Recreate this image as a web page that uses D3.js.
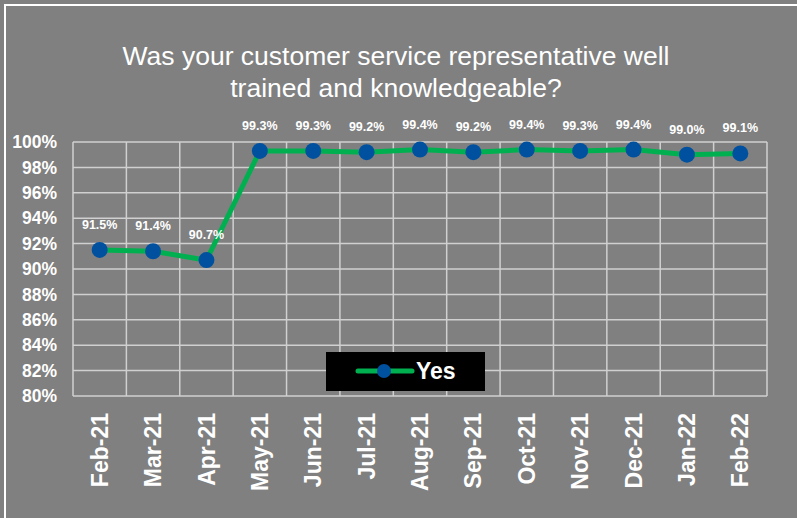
<!DOCTYPE html>
<html>
<head>
<meta charset="utf-8">
<script src="https://cdn.jsdelivr.net/npm/d3@7"></script>
<style>
  body { margin: 0; background: #808080; }
  svg { display: block; font-family: "Liberation Sans", Arial, sans-serif; }
</style>
</head>
<body>
<svg width="797" height="518"></svg>
<script>
var months = ['Feb-21','Mar-21','Apr-21','May-21','Jun-21','Jul-21','Aug-21','Sep-21','Oct-21','Nov-21','Dec-21','Jan-22','Feb-22'];
var yesValues = [91.5, 91.4, 90.7, 99.3, 99.3, 99.2, 99.4, 99.2, 99.4, 99.3, 99.4, 99.0, 99.1];
var yTicks = [80, 82, 84, 86, 88, 90, 92, 94, 96, 98, 100];
var titleLines = ['Was your customer service representative well', 'trained and knowledgeable?'];

var svg = d3.select('svg');

// outer frame
svg.append('rect')
	.attr('x', 5).attr('y', 5)
	.attr('width', 820).attr('height', 540)
	.attr('fill', '#808080')
	.attr('stroke', '#ffffff')
	.attr('stroke-width', 2);

var plot = { left: 73, right: 767, top: 142, bottom: 396 };

var x = d3.scaleBand().domain(months).range([plot.left, plot.right]);
var y = d3.scaleLinear().domain([80, 100]).range([plot.bottom, plot.top]);

// title
svg.append('text')
	.attr('x', 396).attr('y', 65)
	.attr('text-anchor', 'middle')
	.attr('fill', '#ffffff')
	.attr('font-size', 26.5)
	.selectAll('tspan')
	.data(titleLines)
	.join('tspan')
	.attr('x', 396)
	.attr('dy', (d, i) => i ? 32 : 0)
	.text(d => d);

// grid
svg.append('g')
	.selectAll('line')
	.data(yTicks)
	.join('line')
	.attr('x1', plot.left).attr('x2', plot.right)
	.attr('y1', d => y(d)).attr('y2', d => y(d))
	.attr('stroke', '#d0d0d0')
	.attr('stroke-width', 1.5);

var vlines = months.map(m => x(m)).concat([plot.right]);
svg.append('g')
	.selectAll('line')
	.data(vlines)
	.join('line')
	.attr('x1', d => d).attr('x2', d => d)
	.attr('y1', plot.top).attr('y2', plot.bottom)
	.attr('stroke', '#d0d0d0')
	.attr('stroke-width', 1.5);

// y axis labels
var yAxis = svg.append('g')
	.attr('transform', 'translate(' + (plot.left - 16) + ',0)')
	.call(d3.axisLeft(y).tickValues(yTicks).tickSize(0).tickPadding(0).tickFormat(d => d + '%'));
yAxis.select('.domain').remove();
yAxis.selectAll('text')
	.attr('fill', '#ffffff')
	.attr('font-size', 17.5)
	.attr('font-weight', 'bold')
	.attr('font-family', '"Liberation Sans", Arial, sans-serif');

// x axis labels
var xAxis = svg.append('g')
	.attr('transform', 'translate(0,' + plot.bottom + ')')
	.call(d3.axisBottom(x).tickSize(0).tickPadding(0));
xAxis.select('.domain').remove();
xAxis.selectAll('text')
	.attr('fill', '#ffffff')
	.attr('font-size', 23)
	.attr('font-weight', 'bold')
	.attr('font-family', '"Liberation Sans", Arial, sans-serif')
	.attr('text-anchor', 'end')
	.attr('dy', '0.35em')
	.attr('transform', 'translate(0,17) rotate(-90)');

var cx = d => x(d) + x.bandwidth() / 2;

// line
var line = d3.line()
	.x((d, i) => cx(months[i]))
	.y(d => y(d));

svg.append('path')
	.datum(yesValues)
	.attr('d', line)
	.attr('fill', 'none')
	.attr('stroke', '#00b050')
	.attr('stroke-width', 5);

svg.append('g')
	.selectAll('circle')
	.data(yesValues)
	.join('circle')
	.attr('cx', (d, i) => cx(months[i]))
	.attr('cy', d => y(d))
	.attr('r', 8)
	.attr('fill', '#0050a0');

// data labels
svg.append('g')
	.selectAll('text')
	.data(yesValues)
	.join('text')
	.attr('x', (d, i) => cx(months[i]))
	.attr('y', d => y(d) - 21)
	.attr('text-anchor', 'middle')
	.attr('fill', '#ffffff')
	.attr('font-size', 12.5)
	.attr('font-weight', 'bold')
	.text(d => d.toFixed(1) + '%');

// legend
var legend = svg.append('g').attr('transform', 'translate(326,352)');
legend.append('rect')
	.attr('width', 159).attr('height', 39)
	.attr('fill', '#000000');
legend.append('line')
	.attr('x1', 32).attr('x2', 86)
	.attr('y1', 19).attr('y2', 19)
	.attr('stroke', '#00b050')
	.attr('stroke-width', 5)
	.attr('stroke-linecap', 'round');
legend.append('circle')
	.attr('cx', 58).attr('cy', 19).attr('r', 7)
	.attr('fill', '#0050a0');
legend.append('text')
	.attr('x', 90).attr('y', 27)
	.attr('fill', '#ffffff')
	.attr('font-size', 23)
	.attr('font-weight', 'bold')
	.text('Yes');
</script>
</body>
</html>
